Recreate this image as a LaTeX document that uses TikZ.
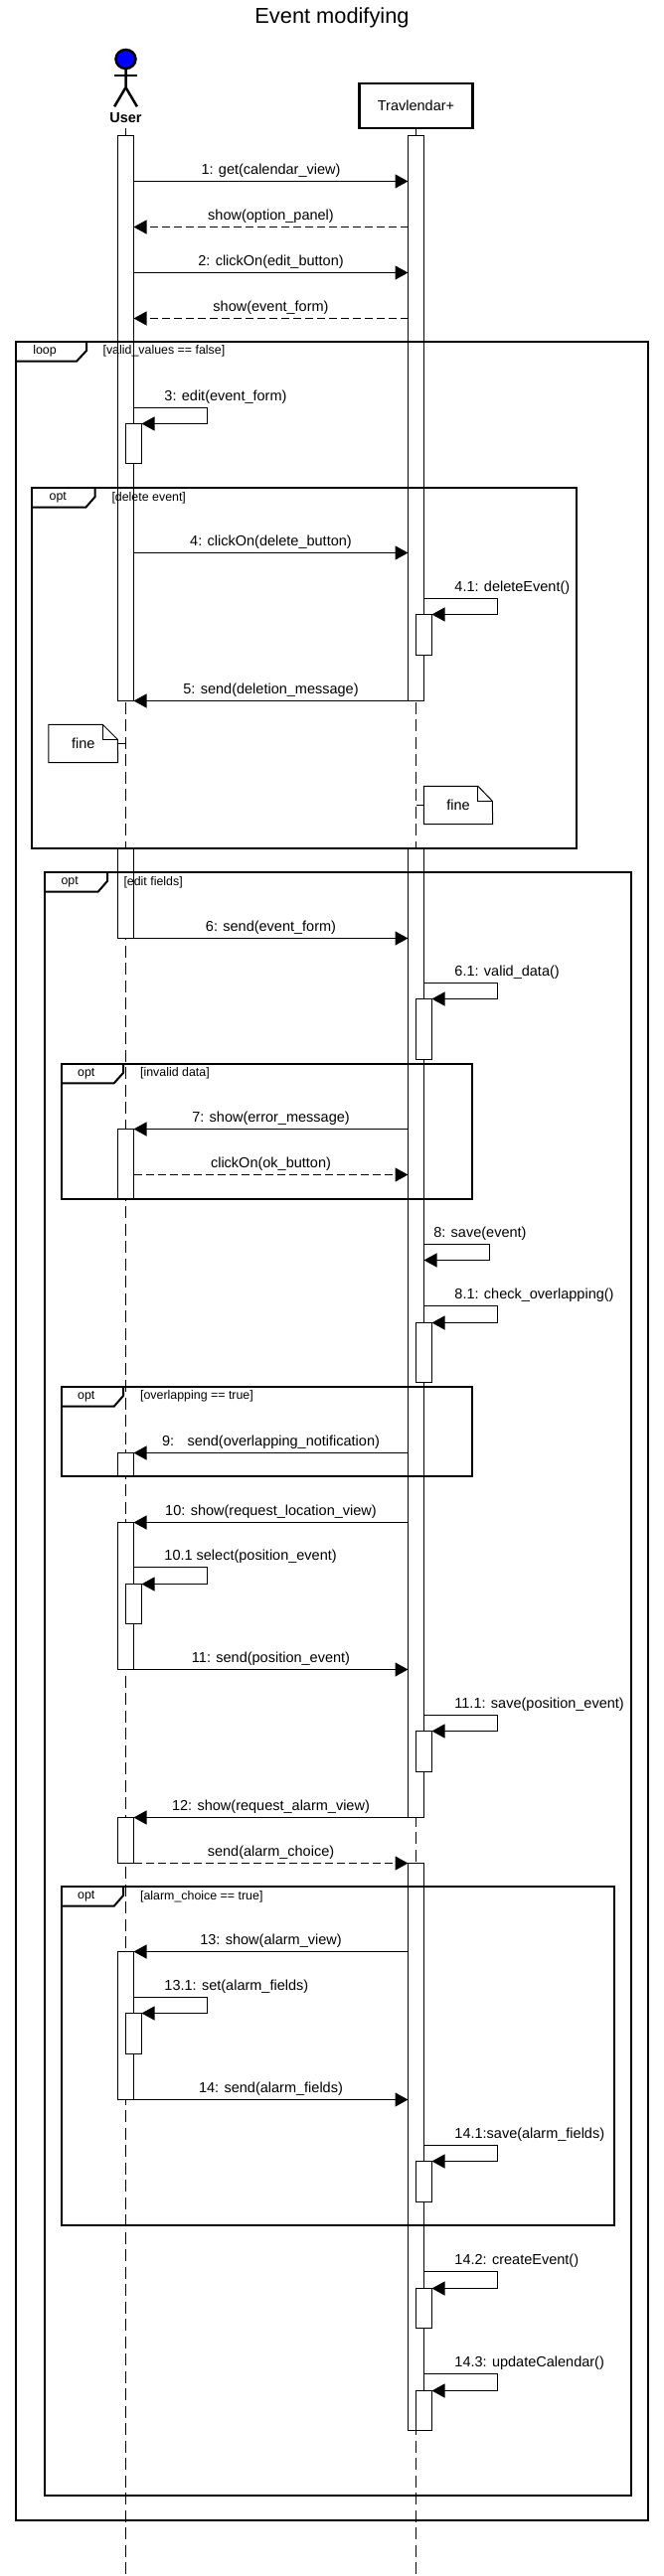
\documentclass[tikz,border=0pt]{standalone}
\usepackage{fontspec}
\setmainfont{Liberation Sans}
\usetikzlibrary{arrows.meta, shapes.geometric}

\begin{document}
\begin{tikzpicture}[
        x=1pt, y=1pt,
        msgfont/.style={font=\fontsize{14.5}{17}\selectfont},
        framefont/.style={font=\fontsize{12.4}{14}\selectfont},
        bar/.style={rectangle, draw, fill=white, line width=1pt, minimum width=16pt, inner sep=0pt, outer sep=0pt, anchor=north},
        frame/.style={rectangle, draw, line width=2pt, inner sep=0pt, outer sep=0pt, anchor=north west},
        tab/.style={draw, line width=2pt, line join=miter},
        tabtext/.style={framefont, inner sep=0pt},
        guard/.style={framefont, inner sep=0pt, anchor=west},
        lifeline/.style={draw, line width=1pt, dash pattern=on 12pt off 5.5pt},
        arrow/.style={-{Triangle[length=13pt, width=14pt]}, line width=1.2pt},
        returnarrow/.style={arrow, dash pattern=on 8pt off 4pt},
        msglabel/.style={msgfont, above=3.4pt, inner sep=0pt, text height=11pt, text depth=3pt},
        selflabel/.style={msglabel, anchor=south west},
        note/.style={draw, line width=1pt, line join=miter},
        notetext/.style={msgfont, inner sep=0pt}
    ]
        \useasboundingbox (0,0) rectangle (668,-2593);

        \node[font=\fontsize{21.8}{26}\selectfont, inner sep=0pt] (title) at (334,-17.5) {Event modifying};

        % actors
        \node[ellipse, draw, line width=2.5pt, fill=blue, minimum width=20pt, minimum height=19pt, inner sep=0pt, outer sep=0pt] (head) at (126.5,-59.5) {};
        \draw[line width=2.5pt] (head.south) -- ++(0,-19) coordinate (hip) -- ++(-11.4,-19.3);
        \draw[line width=2.5pt] (hip) -- ++(11.4,-19.3);
        \draw[line width=2.5pt] ([yshift=-7pt]head.south) -- ++(-11.4,0);
        \draw[line width=2.5pt] ([yshift=-7pt]head.south) -- ++(11.4,0);
        \node[font=\fontsize{14.5}{17}\selectfont\bfseries, minimum height=20pt, inner sep=0pt, outer sep=0pt] (user) at (126.5,-119) {User};
        \node[rectangle, draw, line width=2.5pt, msgfont, minimum width=114.3pt, minimum height=45pt, inner sep=0pt, outer sep=0pt] (sys) at (418.5,-106.5) {Travlendar+};

        % lifelines
        \coordinate (userend) at (126.5,-2593);
        \coordinate (sysend) at (418.5,-2593);
        \draw[lifeline] (user.south) -- (userend);
        \draw[lifeline] (sys.south) -- (sysend);

        % long bars
        \node[bar, minimum height=569pt] (ubar1) at (126.5,-136.5) {};
        \node[bar, minimum height=569pt] (sbar1) at (418.5,-136.5) {};
        \node[bar, minimum height=90.5pt] (ubar2) at (126.5,-854) {};
        \node[bar, minimum height=975.5pt] (sbar2) at (418.5,-854) {};
        \node[bar, minimum height=70.5pt] (ubar3) at (126.5,-1136.5) {};
        \node[bar, minimum height=23.5pt] (ubar4) at (126.5,-1462.5) {};
        \node[bar, minimum height=148pt] (ubar5) at (126.5,-1532.5) {};
        \node[bar, minimum height=46pt] (ubar6) at (126.5,-1829.5) {};
        \node[bar, minimum height=571pt] (sbar3) at (418.5,-1875.5) {};
        \node[bar, minimum height=149pt] (ubar7) at (126.5,-1964.5) {};

        % short bars
        \node[bar, minimum height=40pt] (uact1) at (134.5,-426.5) {};
        \node[bar, minimum height=41pt] (sact1) at (426.5,-618.5) {};
        \node[bar, minimum height=61pt] (sact2) at (426.5,-1005.5) {};
        \node[bar, minimum height=60pt] (sact3) at (426.5,-1331.5) {};
        \node[bar, minimum height=40pt] (uact2) at (134.5,-1594.5) {};
        \node[bar, minimum height=41pt] (sact4) at (426.5,-1742.5) {};
        \node[bar, minimum height=41pt] (uact3) at (134.5,-2026.5) {};
        \node[bar, minimum height=41pt] (sact5) at (426.5,-2175.5) {};
        \node[bar, minimum height=40pt] (sact6) at (426.5,-2303.5) {};
        \node[bar, minimum height=40pt] (sact7) at (426.5,-2406.5) {};

        % frames
        \node[frame, minimum width=636pt, minimum height=2193pt] (loopframe) at (16,-344) {};
        \draw[tab] (loopframe.north west) ++(71,0) -- ++(0,-9) -- ++(-10,-10.7) -- ++(-61,0);
        \node[tabtext] (looptext) at (45,-353) {loop};
        \node[guard] (loopguard) at (103.4,-353) {[valid\_values == false]};

        \node[frame, minimum width=548pt, minimum height=363pt] (deleteframe) at (32,-491) {};
        \draw[tab] (deleteframe.north west) ++(63.7,0) -- ++(0,-9) -- ++(-9.4,-10.7) -- ++(-54.3,0);
        \node[tabtext] (deletetext) at (58.3,-501) {opt};
        \node[guard] (deleteguard) at (112.3,-501) {[delete event]};

        \node[frame, minimum width=590pt, minimum height=1634pt] (editframe) at (45,-878) {};
        \draw[tab] (editframe.north west) ++(63,0) -- ++(0,-9) -- ++(-9.4,-10.7) -- ++(-53.6,0);
        \node[tabtext] (edittext) at (70.2,-888) {opt};
        \node[guard] (editguard) at (124.3,-888) {[edit fields]};

        \node[frame, minimum width=413pt, minimum height=136pt] (invalidframe) at (62,-1071) {};
        \draw[tab] (invalidframe.north west) ++(62,0) -- ++(0,-9) -- ++(-9.3,-10.3) -- ++(-52.7,0);
        \node[tabtext] (invalidtext) at (86.8,-1080.5) {opt};
        \node[guard] (invalidguard) at (140.9,-1080.5) {[invalid data]};

        \node[frame, minimum width=413pt, minimum height=90pt] (overlapframe) at (62,-1396) {};
        \draw[tab] (overlapframe.north west) ++(62,0) -- ++(0,-9) -- ++(-9.3,-10.7) -- ++(-52.7,0);
        \node[tabtext] (overlaptext) at (86.8,-1405.5) {opt};
        \node[guard] (overlapguard) at (140.9,-1405.5) {[overlapping == true]};

        \node[frame, minimum width=556pt, minimum height=341pt] (alarmframe) at (62,-1899) {};
        \draw[tab] (alarmframe.north west) ++(62,0) -- ++(0,-9) -- ++(-9.3,-10.7) -- ++(-52.7,0);
        \node[tabtext] (alarmtext) at (86.8,-1909) {opt};
        \node[guard] (alarmguard) at (140.9,-1909) {[alarm\_choice == true]};

        % notes
        \node[notetext, minimum width=69.5pt, minimum height=38pt] (note1) at (83.75,-748.5) {fine};
        \draw[note] (note1.south west) -- (note1.north west) -- ++(54.5,0) -- ++(15,-15) -- (note1.south east) -- cycle;
        \draw[note] (note1.north west) ++(54.5,0) -- ++(0,-15) -- ++(15,0);
        \draw[line width=1pt] (note1.east) -- (ubar1 |- note1.east);

        \node[notetext, minimum width=69pt, minimum height=38pt] (note2) at (461,-810.5) {fine};
        \draw[note] (note2.south west) -- (note2.north west) -- ++(54.5,0) -- ++(14.5,-15) -- (note2.south east) -- cycle;
        \draw[note] (note2.north west) ++(54.5,0) -- ++(0,-15) -- ++(14.5,0);
        \draw[line width=1pt] (note2.west) -- (sbar1 |- note2.west);

        % messages
        \coordinate (m1) at (0,-182.5);
        \draw[arrow] (ubar1.east |- m1) -- node[msglabel] (t1) {1: get(calendar\_view)} (sbar1.west |- m1);
        \coordinate (m1b) at (0,-228.5);
        \draw[returnarrow] (sbar1.west |- m1b) -- node[msglabel] (t1b) {show(option\_panel)} (ubar1.east |- m1b);
        \coordinate (m2) at (0,-274.5);
        \draw[arrow] (ubar1.east |- m2) -- node[msglabel] (t2) {2: clickOn(edit\_button)} (sbar1.west |- m2);
        \coordinate (m2b) at (0,-320.5);
        \draw[returnarrow] (sbar1.west |- m2b) -- node[msglabel] (t2b) {show(event\_form)} (ubar1.east |- m2b);

        \coordinate (m3) at (0,-410.5);
        \draw[arrow] (ubar1.east |- m3) -- node[pos=0.41, selflabel] (t3) {3: edit(event\_form)} ++(74,0) |- (uact1.north east);

        \coordinate (m4) at (0,-556.5);
        \draw[arrow] (ubar1.east |- m4) -- node[msglabel] (t4) {4: clickOn(delete\_button)} (sbar1.west |- m4);
        \coordinate (m41) at (0,-602.5);
        \draw[arrow] (sbar1.east |- m41) -- node[pos=0.41, selflabel] (t41) {4.1: deleteEvent()} ++(74,0) |- (sact1.north east);
        \draw[arrow] (sbar1.south west) -- node[msglabel] (t5) {5: send(deletion\_message)} (ubar1.south east);

        \coordinate (m6) at (0,-944.5);
        \draw[arrow] (ubar2.east |- m6) -- node[msglabel] (t6) {6: send(event\_form)} (sbar2.west |- m6);
        \coordinate (m61) at (0,-989.5);
        \draw[arrow] (sbar2.east |- m61) -- node[pos=0.41, selflabel] (t61) {6.1: valid\_data()} ++(74,0) |- (sact2.north east);

        \draw[arrow] (sbar2.west |- ubar3.north) -- node[msglabel] (t7) {7: show(error\_message)} (ubar3.north east);
        \coordinate (m7b) at (0,-1182.5);
        \draw[returnarrow] (ubar3.east |- m7b) -- node[msglabel] (t7b) {clickOn(ok\_button)} (sbar2.west |- m7b);

        \coordinate (m8) at (0,-1252.5);
        \coordinate (m8b) at (0,-1268.5);
        \draw[arrow] (sbar2.east |- m8) -- node[pos=0.14, selflabel] (t8) {8: save(event)} ++(65.6,0) |- (sbar2.east |- m8b);
        \coordinate (m81) at (0,-1314.5);
        \draw[arrow] (sbar2.east |- m81) -- node[pos=0.41, selflabel] (t81) {8.1: check\_overlapping()} ++(74,0) |- (sact3.north east);

        \draw[arrow] (sbar2.west |- ubar4.north) -- node[msglabel] (t9) {9:\hspace{8pt} send(overlapping\_notification)} (ubar4.north east);
        \draw[arrow] (sbar2.west |- ubar5.north) -- node[msglabel] (t10) {10: show(request\_location\_view)} (ubar5.north east);
        \coordinate (m101) at (0,-1577.5);
        \draw[arrow] (ubar5.east |- m101) -- node[pos=0.41, selflabel] (t101) {10.1 select(position\_event)} ++(74,0) |- (uact2.north east);
        \draw[arrow] (ubar5.south east) -- node[msglabel] (t11) {11: send(position\_event)} (sbar2.west |- ubar5.south);
        \coordinate (m111) at (0,-1726.5);
        \draw[arrow] (sbar2.east |- m111) -- node[pos=0.41, selflabel] (t111) {11.1: save(position\_event)} ++(74,0) |- (sact4.north east);

        \draw[arrow] (sbar2.south west) -- node[msglabel] (t12) {12: show(request\_alarm\_view)} (ubar6.north east);
        \draw[returnarrow] (ubar6.south east) -- node[msglabel] (t12b) {send(alarm\_choice)} (sbar3.north west);

        \draw[arrow] (sbar3.west |- ubar7.north) -- node[msglabel] (t13) {13: show(alarm\_view)} (ubar7.north east);
        \coordinate (m131) at (0,-2010.5);
        \draw[arrow] (ubar7.east |- m131) -- node[pos=0.41, selflabel] (t131) {13.1: set(alarm\_fields)} ++(74,0) |- (uact3.north east);
        \draw[arrow] (ubar7.south east) -- node[msglabel] (t14) {14: send(alarm\_fields)} (sbar3.west |- ubar7.south);
        \coordinate (m141) at (0,-2159.5);
        \draw[arrow] (sbar3.east |- m141) -- node[pos=0.41, selflabel] (t141) {14.1:save(alarm\_fields)} ++(74,0) |- (sact5.north east);
        \coordinate (m142) at (0,-2286.5);
        \draw[arrow] (sbar3.east |- m142) -- node[pos=0.41, selflabel] (t142) {14.2: createEvent()} ++(74,0) |- (sact6.north east);
        \coordinate (m143) at (0,-2389.5);
        \draw[arrow] (sbar3.east |- m143) -- node[pos=0.41, selflabel] (t143) {14.3: updateCalendar()} ++(74,0) |- (sact7.north east);
    \end{tikzpicture}
\end{document}
